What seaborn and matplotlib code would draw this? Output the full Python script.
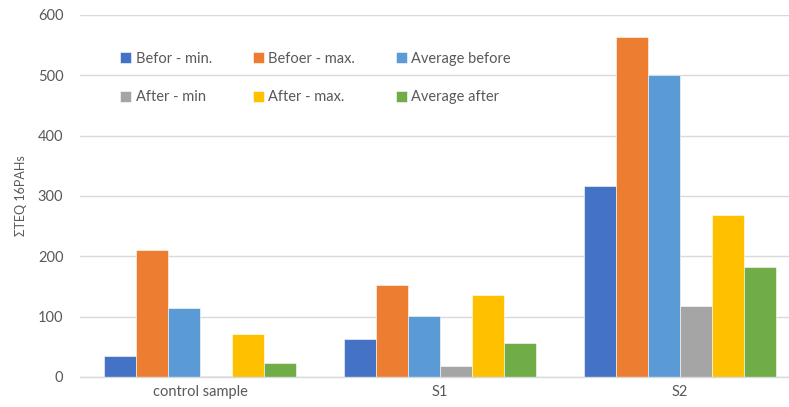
import pandas as pd
import matplotlib.pyplot as plt
import seaborn as sns

# values
samples = ["control sample", "S1", "S2"]
series = ["Befor - min.", "Befoer - max.", "Average before",
          "After - min", "After - max.", "Average after"]
befor_min = [35, 63, 317]
befoer_max = [211, 153, 563]
average_before = [115, 101, 500]
after_min = [2, 19, 117]
after_max = [72, 136, 268]
average_after = [24, 56, 183]

colors = ["#4472C4", "#ED7D31", "#5B9BD5", "#A5A5A5", "#FFC000", "#70AD47"]

rows = []
for name, vals in zip(series, [befor_min, befoer_max, average_before,
                               after_min, after_max, average_after]):
    for s, v in zip(samples, vals):
        rows.append({"sample": s, "series": name, "value": v})
df = pd.DataFrame(rows)

sns.set_style("white")
plt.rcParams['font.family'] = ['Lato', 'DejaVu Sans']
txt = "#595959"

fig = plt.figure(figsize=(7.89, 4.07), dpi=100)
ax = fig.add_axes([80 / 789, 30 / 407, 720 / 789, 362 / 407])

sns.barplot(data=df, x="sample", y="value", hue="series", hue_order=series,
            palette=colors, width=0.8, saturation=1, ax=ax,
            edgecolor="white", linewidth=0.4)

ax.set_ylim(0, 600)
ax.set_xlim(-0.5, 2.5)
ax.set_yticks(range(0, 601, 100))
ax.yaxis.grid(True, color="#D9D9D9", linewidth=1)
ax.set_axisbelow(True)
for sp in ["top", "right", "left"]:
    ax.spines[sp].set_visible(False)
ax.spines["bottom"].set_color("#D9D9D9")
ax.spines["bottom"].set_linewidth(1)
ax.tick_params(axis="both", length=0, colors=txt, labelsize=10.5)
ax.tick_params(axis="y", pad=12)
ax.tick_params(axis="x", pad=6)
ax.set_xlabel("")
ax.set_ylabel("ΣTEQ 16PAHs", color=txt, fontsize=9, labelpad=8)

# legend filled row by row, like the original
handles, labels = ax.get_legend_handles_labels()
order = [0, 3, 1, 4, 2, 5]
leg = ax.legend([handles[i] for i in order], [labels[i] for i in order],
                ncol=3, loc="upper left", bbox_to_anchor=(0.038, 0.935),
                frameon=False, fontsize=10.5, handlelength=0.75,
                handleheight=0.75, handletextpad=0.3, labelspacing=1.7,
                columnspacing=2.8)
for t in leg.get_texts():
    t.set_color(txt)

fig.savefig("out.png", dpi=100)
